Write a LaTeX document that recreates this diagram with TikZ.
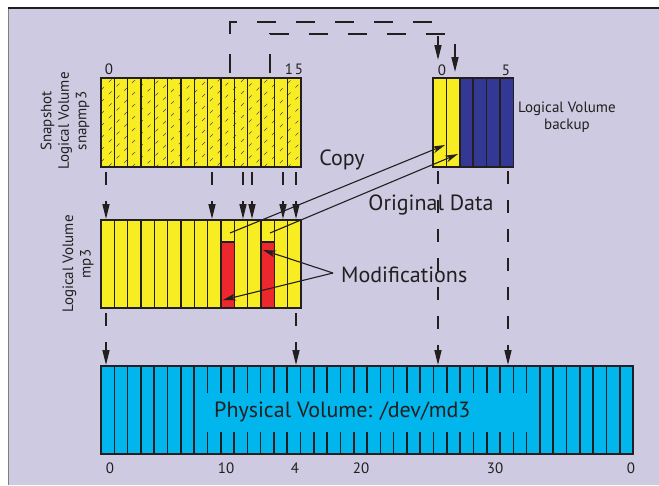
\documentclass[tikz,border=0pt]{standalone}
\usepackage{fontspec}
\setmainfont{PT Sans}
\usetikzlibrary{arrows.meta}

\definecolor{panel}{RGB}{205,202,225}
\definecolor{ink}{RGB}{35,31,32}
\definecolor{lvyellow}{RGB}{248,236,35}
\definecolor{modred}{RGB}{236,40,45}
\definecolor{bkblue}{RGB}{50,56,148}
\definecolor{pvcyan}{RGB}{0,182,237}

\begin{document}
\begin{tikzpicture}[x=1pt,y=-1pt,
  cell/.style={draw=ink,line width=1.6pt},
  drop/.style={draw=ink,line width=1.6pt,dash pattern=on 13pt off 16pt,-{Triangle[length=15pt,width=7pt]}},
  route/.style={draw=ink,line width=1.6pt,dash pattern=on 19pt off 20pt,-{Triangle[length=15pt,width=7pt]}},
  pointer/.style={draw=ink,line width=1.1pt,-{Stealth[length=13pt,width=7pt]}},
  bigtext/.style={text=ink,font=\fontsize{22}{24}\selectfont,inner sep=0pt},
  smalltext/.style={text=ink,font=\fontsize{15}{17.5}\selectfont,align=center,inner sep=0pt}]
\useasboundingbox (0,0) rectangle (659,485);
\fill[panel] (8,8) rectangle (659,485);
\draw[gray,line width=1pt] (8,485) -- (8,8);
\draw[ink,line width=1.2pt] (8,8) -- (659,8);

% snapshot volume snapmp3
\fill[lvyellow] (101,78) rectangle (301,167);
\begin{scope}
\clip (101,78) rectangle (301,167);
\foreach \k in {0,...,25}{\draw[ink!80,line width=0.5pt,dash pattern=on 4pt off 7pt] (101,78+\k*12) -- ++(210,-210);}
\end{scope}
\foreach \i in {0,...,14}{\draw[cell] (101+\i*13.333,78) rectangle ++(13.333,89);}
\node[smalltext] (snap0) at (109,69) {0};
\node[smalltext] (snap15) at (294,69) {1\kern2pt 5};
\node[smalltext,rotate=90] (snaplbl) at (65,121) {Snapshot\\Logical Volume\\snapmp3};

% logical volume mp3
\foreach \i in {0,...,14}{\filldraw[cell,fill=lvyellow] (101+\i*13.333,220) rectangle ++(13.333,88);}
\foreach \i in {9,12}{\filldraw[cell,fill=modred] (101+\i*13.333,242) rectangle ++(13.333,66);}
\node[smalltext,rotate=90] (mplbl) at (78,264) {Logical Volume\\mp3};

% logical volume backup
\foreach \i/\c in {0/lvyellow,1/lvyellow,2/bkblue,3/bkblue,4/bkblue,5/bkblue}{\filldraw[cell,fill=\c] (433+\i*13.4,78) rectangle ++(13.4,89);}
\node[smalltext] (bk0) at (442,70) {0};
\node[smalltext] (bk5) at (506,70) {5};
\node[smalltext] (bklbl) at (567,117) {Logical Volume\\backup};

% physical volume
\foreach \i in {0,...,39}{\filldraw[cell,fill=pvcyan] (101+\i*13.3,366) rectangle ++(13.3,88);}
\fill[pvcyan] (207.4,393) rectangle (526.6,432);
\node[bigtext,anchor=west] (pvname) at (214,412) {Physical Volume: /dev/md3};
\foreach \x/\t in {110/0,226/10,295/4,361/20,495/30,631/0}{\node[smalltext] (pv\t) at (\x,468) {\t};}

% labels
\node[bigtext] (copylbl) at (342,160) {Copy};
\node[bigtext] (origlbl) at (431,205) {Original Data};
\node[bigtext,anchor=west] (modlbl) at (341,275) {Modifications};

% snapshot -> mp3
\foreach \x [count=\n] in {106,212,243,252,283,296}{
  \coordinate (sa\n) at (\x,172); \coordinate (sb\n) at (\x,219);
  \draw[drop] (sa\n) -- (sb\n);}
% mp3 -> physical
\foreach \x [count=\n] in {106,296}{
  \coordinate (ma\n) at (\x,313); \coordinate (mb\n) at (\x,365);
  \draw[drop] (ma\n) -- (mb\n);}
% backup -> physical
\foreach \x [count=\n] in {438,508}{
  \coordinate (ba\n) at (\x,171); \coordinate (bb\n) at (\x,365);
  \draw[drop] (ba\n) -- (bb\n);}
% snapshot -> backup
\coordinate (ra) at (230,73); \coordinate (rb) at (438,60);
\coordinate (rc) at (270,73); \coordinate (rd) at (455,72);
\draw[route] (ra) -- (230,22) -| (rb);
\draw[route] (rc) -- (270,34) -| (rd);

% copy of original data
\coordinate (cpa) at (230,233); \coordinate (cpb) at (445,145);
\coordinate (cpc) at (270,233); \coordinate (cpd) at (458,154);
\draw[pointer] (cpa) -- (cpb);
\draw[pointer] (cpc) -- (cpd);

% modifications
\coordinate (modsrc) at (333,273);
\coordinate (moda) at (263,250); \coordinate (modb) at (223,300);
\draw[pointer] (modsrc) -- (moda);
\draw[pointer] (modsrc) -- (modb);
\end{tikzpicture}
\end{document}
